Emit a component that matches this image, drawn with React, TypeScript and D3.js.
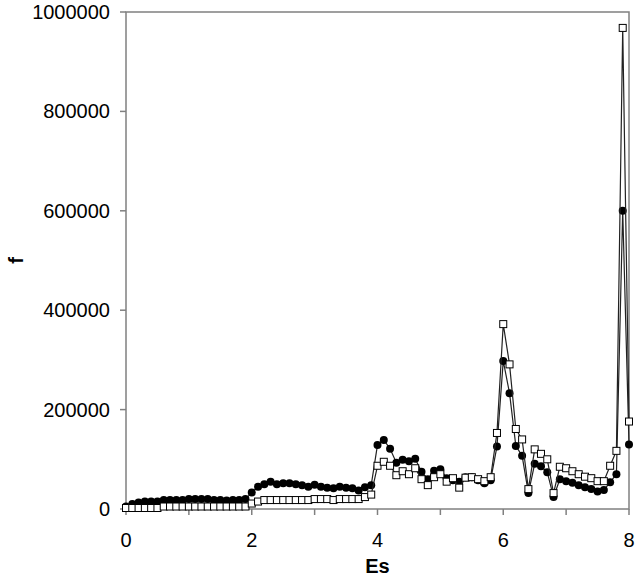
import React, { useEffect, useRef } from "react";
import * as d3 from "d3";

const es = [
  0, 0.1, 0.2, 0.3, 0.4, 0.5, 0.6, 0.7, 0.8, 0.9,
  1, 1.1, 1.2, 1.3, 1.4, 1.5, 1.6, 1.7, 1.8, 1.9,
  2, 2.1, 2.2, 2.3, 2.4, 2.5, 2.6, 2.7, 2.8, 2.9,
  3, 3.1, 3.2, 3.3, 3.4, 3.5, 3.6, 3.7, 3.8, 3.9,
  4, 4.1, 4.2, 4.3, 4.4, 4.5, 4.6, 4.7, 4.8, 4.9,
  5, 5.1, 5.2, 5.3, 5.4, 5.5, 5.6, 5.7, 5.8, 5.9,
  6, 6.1, 6.2, 6.3, 6.4, 6.5, 6.6, 6.7, 6.8, 6.9,
  7, 7.1, 7.2, 7.3, 7.4, 7.5, 7.6, 7.7, 7.8, 7.9,
  8
];

// filled circles
const fCircle = [
  5000, 10000, 13000, 15000, 15000, 15000, 18000, 18000, 18000, 18000,
  20000, 20000, 20000, 20000, 18000, 18000, 17000, 18000, 18000, 20000,
  33000, 45000, 50000, 55000, 50000, 52000, 52000, 50000, 48000, 45000,
  49000, 45000, 43000, 42000, 45000, 43000, 42000, 37000, 44000, 48000,
  129000, 139000, 121000, 93000, 99000, 96000, 101000, 75000, 60000, 77000,
  80000, 62000, 58000, 55000, 64000, 64000, 58000, 52000, 58000, 126000,
  298000, 233000, 127000, 107000, 32000, 91000, 86000, 74000, 24000, 60000,
  56000, 53000, 48000, 44000, 40000, 35000, 38000, 54000, 70000, 600000,
  130000
];

// open squares
const fSquare = [
  2000, 2000, 2000, 2000, 2000, 2000, 5000, 5000, 5000, 5000,
  5000, 5000, 5000, 5000, 5000, 5000, 5000, 5000, 5000, 5000,
  11000, 15000, 18000, 18000, 18000, 18000, 18000, 18000, 18000, 18000,
  20000, 20000, 20000, 18000, 20000, 20000, 20000, 20000, 24000, 29000,
  87000, 95000, 87000, 68000, 76000, 70000, 82000, 60000, 48000, 64000,
  70000, 55000, 62000, 43000, 63000, 64000, 60000, 56000, 64000, 153000,
  372000, 291000, 161000, 140000, 40000, 120000, 111000, 100000, 32000, 85000,
  82000, 76000, 70000, 65000, 62000, 56000, 56000, 87000, 117000, 968000,
  176000
];

const xTicks = [0, 1, 2, 3, 4, 5, 6, 7, 8];
const xLabels = [0, 2, 4, 6, 8];
const yTicks = [0, 200000, 400000, 600000, 800000, 1000000];

export default function App() {
  const ref = useRef<SVGSVGElement>(null);

  useEffect(() => {
    const width = 640;
    const height = 580;
    const left = 126, right = 629, top = 12, bottom = 509;
    const axisColor = "#808080";
    const font = "'Liberation Sans', Arial, sans-serif";

    const svg = d3.select(ref.current);
    svg.selectAll("*").remove();
    svg.attr("width", width).attr("height", height);

    const x = d3.scaleLinear().domain([0, 8]).range([left, right]);
    const y = d3.scaleLinear().domain([0, 1000000]).range([bottom, top]);

    // frame
    svg.append("rect")
      .attr("x", left).attr("y", top)
      .attr("width", right - left).attr("height", bottom - top)
      .attr("fill", "none").attr("stroke", axisColor).attr("stroke-width", 1.5);

    // y ticks + labels
    const yg = svg.append("g");
    yg.selectAll("line").data(yTicks).join("line")
      .attr("x1", left - 6).attr("x2", left)
      .attr("y1", d => y(d)).attr("y2", d => y(d))
      .attr("stroke", axisColor).attr("stroke-width", 1.5);
    yg.selectAll("text").data(yTicks).join("text")
      .attr("x", left - 16).attr("y", d => y(d) + 7)
      .attr("text-anchor", "end")
      .attr("font-family", font).attr("font-size", 20).attr("fill", "#000")
      .text(d => String(d));

    // x ticks + labels
    const xg = svg.append("g");
    xg.selectAll("line").data(xTicks).join("line")
      .attr("x1", d => x(d)).attr("x2", d => x(d))
      .attr("y1", bottom).attr("y2", bottom + 6)
      .attr("stroke", axisColor).attr("stroke-width", 1.5);
    xg.selectAll("text").data(xLabels).join("text")
      .attr("x", d => x(d)).attr("y", bottom + 38)
      .attr("text-anchor", "middle")
      .attr("font-family", font).attr("font-size", 20).attr("fill", "#000")
      .text(d => String(d));

    // axis titles
    svg.append("text")
      .attr("x", x(4)).attr("y", 573)
      .attr("text-anchor", "middle")
      .attr("font-family", font).attr("font-size", 20).attr("font-weight", "bold")
      .text("Es");
    svg.append("text")
      .attr("transform", `translate(23,${(top + bottom) / 2}) rotate(-90)`)
      .attr("text-anchor", "middle")
      .attr("font-family", font).attr("font-size", 20).attr("font-weight", "bold")
      .text("f");

    const line = d3.line<number>()
      .x((_, i) => x(es[i]))
      .y(d => y(d));

    // circle series
    svg.append("path")
      .datum(fCircle)
      .attr("d", line)
      .attr("fill", "none").attr("stroke", "#222").attr("stroke-width", 1.2);
    svg.append("g").selectAll("circle").data(fCircle).join("circle")
      .attr("cx", (_, i) => x(es[i])).attr("cy", d => y(d))
      .attr("r", 4).attr("fill", "#000");

    // square series
    svg.append("path")
      .datum(fSquare)
      .attr("d", line)
      .attr("fill", "none").attr("stroke", "#222").attr("stroke-width", 1.2);
    const s = 7;
    svg.append("g").selectAll("rect").data(fSquare).join("rect")
      .attr("x", (_, i) => x(es[i]) - s / 2).attr("y", d => y(d) - s / 2)
      .attr("width", s).attr("height", s)
      .attr("fill", "#fff").attr("stroke", "#000").attr("stroke-width", 1);
  }, []);

  return (
    <svg ref={ref} style={{ position: "absolute", left: 0, top: 0, background: "#fff" }} />
  );
}
